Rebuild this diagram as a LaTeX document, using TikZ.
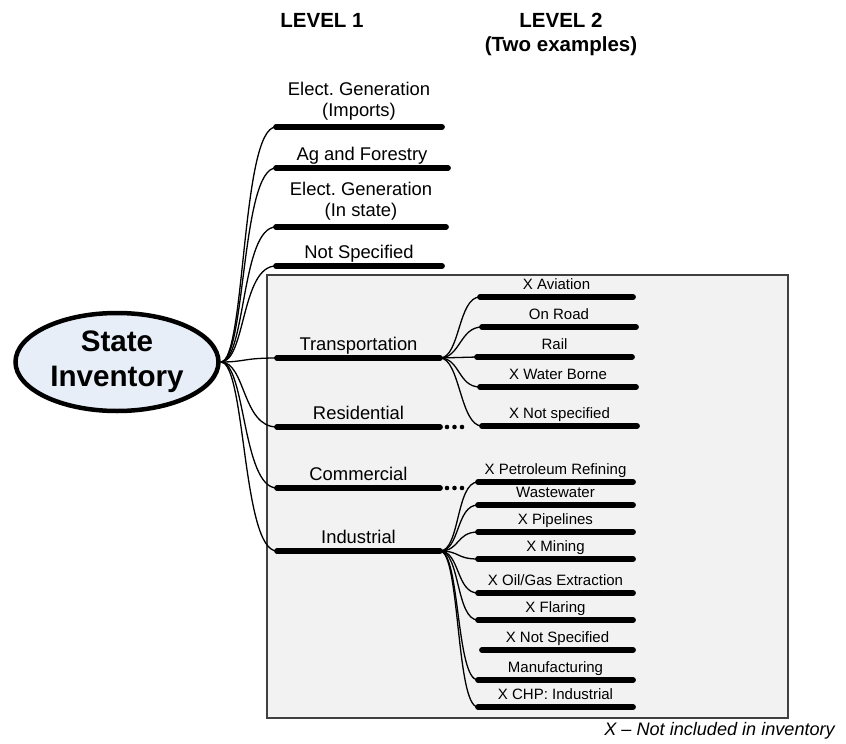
\documentclass[tikz,border=0pt]{standalone}
\usepackage{fontspec}
\setmainfont{Liberation Sans}
\usetikzlibrary{shapes.geometric}
\definecolor{ellfill}{RGB}{232,238,248}
\definecolor{boxfill}{RGB}{242,242,242}
\definecolor{boxline}{RGB}{64,64,64}
\frenchspacing
\begin{document}
\begin{tikzpicture}[x=1pt,y=-1pt,
  bar/.style={line width=5.8pt,line cap=round},
  conn/.style={line width=1.3pt},
  lab1/.style={font=\fontsize{18.4}{21}\selectfont,anchor=base,inner sep=0pt},
  labtwo/.style={font=\fontsize{18.4}{21}\selectfont,anchor=south,align=center,inner sep=0pt},
  lab2/.style={font=\fontsize{15}{18}\selectfont,anchor=base,inner sep=0pt},
  head/.style={font=\fontsize{20.5}{24}\selectfont\bfseries,anchor=base,inner sep=0pt}]
\useasboundingbox (0,0) rectangle (846,744);
% headers
\node[head] (h1) at (322,27.7) {LEVEL 1};
\node[head] (h2) at (561,27.7) {LEVEL 2};
\node[head] (h3) at (561,51.7) {(Two examples)};
% box
\draw[boxline,fill=boxfill,line width=1.5pt] (267,275) rectangle (788,718);
% root
\node[ellipse,draw,line width=4.5pt,fill=ellfill,minimum width=203pt,minimum height=98pt,inner sep=0pt,
  align=center,font=\fontsize{29.6}{35}\selectfont\bfseries] (root) at (117,362) {State\\Inventory};
% level 1 two-line items
\foreach \n/\y/\xs/\xe/\t in {ei/127/276/442/{Elect. Generation\\(Imports)}, es/227/276/446/{Elect. Generation\\(In state)}}{
  \coordinate (\n-s) at (\xs,\y);
  \coordinate (\n-e) at (\xe,\y);
  \draw[conn] (root.east) .. controls +(25,0) and +(-35,0) .. (\n-s);
  \draw[bar] (\n-s) -- (\n-e);
  \node[labtwo] (\n-t) at ({(\xs+\xe)/2},{\y-6}) {\t};
}
% level 1 single-line items
\foreach \n/\y/\xs/\xe/\t in {ag/168/276/448/Ag and Forestry, ns/266/276/442/Not Specified, tr/358/277/440/Transportation, re/427/277/440/Residential, co/488/277/440/Commercial, in/551/277/440/Industrial}{
  \coordinate (\n-s) at (\xs,\y);
  \coordinate (\n-e) at (\xe,\y);
  \draw[conn] (root.east) .. controls +(25,0) and +(-35,0) .. (\n-s);
  \draw[bar] (\n-s) -- (\n-e);
  \node[lab1] (\n-t) at ({(\xs+\xe)/2},{\y-8}) {\t};
}
% dots
\foreach \x in {447,454.5,462} \fill (\x,427) circle (2.3);
\foreach \x in {447,454.5,462} \fill (\x,488) circle (2.3);
% level 2: transportation
\foreach \n/\y/\xs/\xe/\t in {av/297/480/633/X Aviation, or/327/482/636/On Road, wb/387/480/636/X Water Borne, ts/426/482/637/X Not specified}{
  \coordinate (\n-s) at (\xs,\y);
  \coordinate (\n-e) at (\xe,\y);
  \draw[conn] (tr-e) .. controls +(20,0) and +(-22,0) .. (\n-s);
  \draw[bar] (\n-s) -- (\n-e);
  \node[lab2] (\n-t) at ({(\xs+\xe)/2},{\y-8}) {\t};
}
\coordinate (ra-s) at (477,357);
\coordinate (ra-e) at (632,357);
\draw[conn] (tr-e) -- (ra-s);
\draw[bar] (ra-s) -- (ra-e);
\node[lab2] (ra-t) at ({(477+632)/2},349) {Rail};
% level 2: industrial
\foreach \n/\y/\t in {pr/482/X Petroleum Refining, ww/505/Wastewater, pi/532/X Pipelines, mi/559/X Mining, og/593/{X Oil/Gas Extraction}, fl/620/X Flaring, ma/680/Manufacturing, chp/707/X CHP: Industrial}{
  \coordinate (\n-s) at (478,\y);
  \coordinate (\n-e) at (633,\y);
  \draw[conn] (in-e) .. controls +(20,0) and +(-22,0) .. (\n-s);
  \draw[bar] (\n-s) -- (\n-e);
  \node[lab2] (\n-t) at (555.5,{\y-7.5}) {\t};
}
\coordinate (nsp-s) at (482,650);
\coordinate (nsp-e) at (633,650);
\draw[bar] (nsp-s) -- (nsp-e);
\node[lab2] (nsp-t) at (557.5,642.5) {X Not Specified};
% footnote
\node[anchor=base east,inner sep=0pt,font=\fontsize{18.1}{22}\selectfont\itshape] (foot) at (835,735) {X \textendash{} Not included in inventory};
\end{tikzpicture}
\end{document}
